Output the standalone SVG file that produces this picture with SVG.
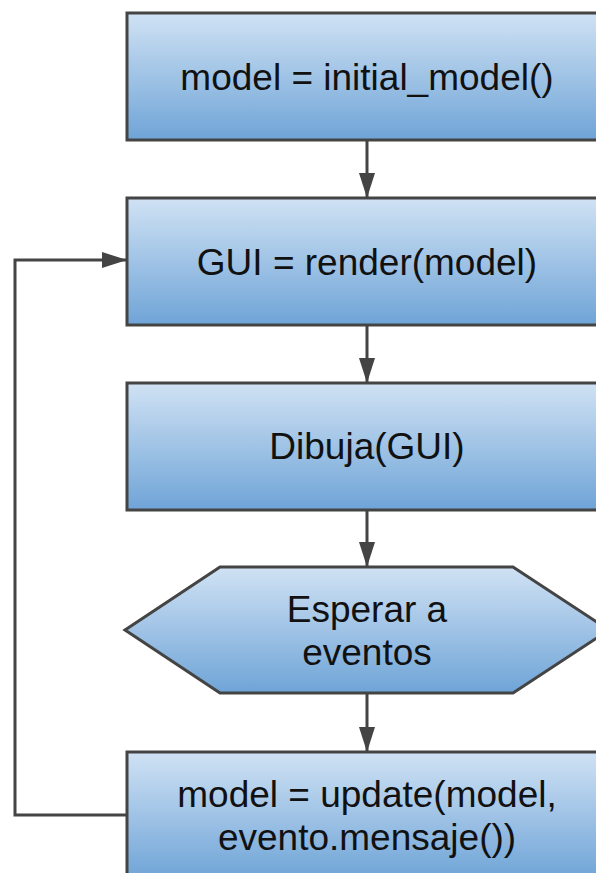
<svg xmlns="http://www.w3.org/2000/svg" width="596" height="873" viewBox="0 0 596 873">
  <defs>
    <linearGradient id="fillBlue" x1="0" y1="0" x2="0" y2="1">
      <stop offset="0" stop-color="#d0e2f4"/>
      <stop offset="1" stop-color="#6fa4d7"/>
    </linearGradient>
    <marker id="arrow" viewBox="0 0 25 16" refX="25" refY="8" markerWidth="25" markerHeight="16" markerUnits="userSpaceOnUse" orient="auto">
      <path d="M0,0 L25,8 L0,16 Z" fill="#444"/>
    </marker>
  </defs>
  <style>
    .node { fill: url(#fillBlue); stroke: #444; stroke-width: 3; }
    .label { font-family: "Liberation Sans", Arial, sans-serif; font-size: 37px; fill: #111; text-anchor: middle; }
    .edge { fill: none; stroke: #444; stroke-width: 3; }
  </style>
  <rect width="596" height="873" fill="#ffffff"/>

  <g id="connectors">
    <line class="edge" x1="367" y1="140" x2="367" y2="198" marker-end="url(#arrow)"/>
    <line class="edge" x1="367" y1="325" x2="367" y2="383" marker-end="url(#arrow)"/>
    <line class="edge" x1="367" y1="510" x2="367" y2="567" marker-end="url(#arrow)"/>
    <line class="edge" x1="367" y1="694" x2="367" y2="752" marker-end="url(#arrow)"/>
    <polyline class="edge" points="127,815 15,815 15,260 127,260" marker-end="url(#arrow)"/>
  </g>

  <g id="init">
    <rect class="node" x="127" y="13" width="480" height="127"/>
    <text class="label" x="367" y="90">model = initial_model()</text>
  </g>

  <g id="render">
    <rect class="node" x="127" y="198" width="480" height="127"/>
    <text class="label" x="367" y="275">GUI = render(model)</text>
  </g>

  <g id="draw">
    <rect class="node" x="127" y="383" width="480" height="127"/>
    <text class="label" x="367" y="459">Dibuja(GUI)</text>
  </g>

  <g id="wait">
    <polygon class="node" points="220,567 513,567 609,630 513,693 220,693 125,630"/>
    <text class="label" x="367" y="622">Esperar a</text>
    <text class="label" x="367" y="665">eventos</text>
  </g>

  <g id="update">
    <rect class="node" x="127" y="752" width="480" height="127"/>
    <text class="label" x="367" y="807">model = update(model,</text>
    <text class="label" x="367" y="850">evento.mensaje())</text>
  </g>
</svg>
